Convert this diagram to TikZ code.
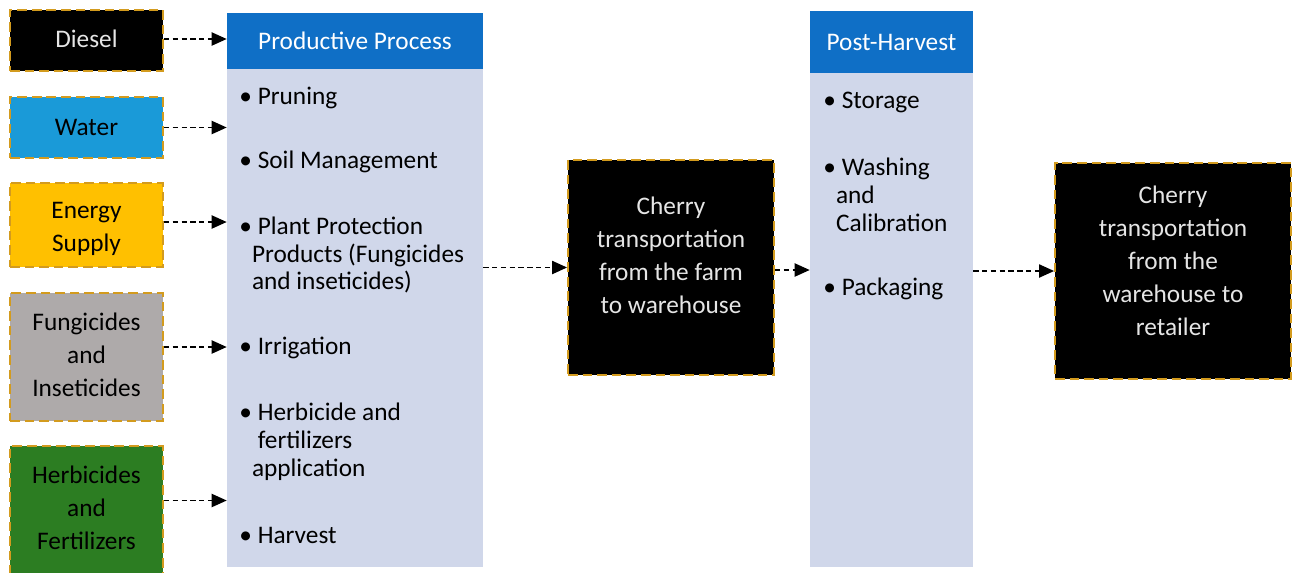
\documentclass[tikz,border=0pt]{standalone}
\usepackage{fontspec}
\setmainfont{Carlito}
\usetikzlibrary{arrows.meta,positioning}
\definecolor{dashorange}{HTML}{D39B1E}
\definecolor{headblue}{HTML}{0F6FC6}
\definecolor{colbody}{HTML}{D0D7EA}
\definecolor{waterblue}{HTML}{1A9AD8}
\definecolor{energyyellow}{HTML}{FFC000}
\definecolor{fungray}{HTML}{AEAAAA}
\definecolor{herbgreen}{HTML}{2C7D22}
\newcommand{\bul}{\makebox[10.5pt][l]{\textbullet}}
\newcommand{\ind}{\hspace*{7.2pt}}

\begin{document}
\begin{tikzpicture}[x=0.02cm,y=-0.02cm,
	txt/.style={font=\fontsize{14.4}{18.8}\selectfont},
	inbox/.style={draw=dashorange,line width=1.1pt,dash pattern=on 5.5pt off 2.8pt,
		inner sep=0pt,minimum width=3.06cm},
	boxtext/.style={txt,align=center,inner sep=0pt},
	column/.style={fill=colbody,inner sep=0pt},
	head/.style={txt,fill=headblue,text=white,inner sep=0pt},
	item/.style={font=\fontsize{14.4}{15.9}\selectfont,anchor=west,align=left,inner sep=0pt},
	flow/.style={line width=0.8pt,dash pattern=on 3pt off 2pt,-{Triangle[length=8.5pt,width=7.5pt]}}]
	\useasboundingbox (0,0) rectangle (1293,572);

	% inputs
	\node[inbox,fill=black,minimum height=1.22cm,
		label={[boxtext,text=white!90!black,yshift=0.03cm]center:Diesel}] (diesel) at (86.5,40.5) {};
	\node[inbox,fill=waterblue,minimum height=1.22cm,
		label={[boxtext]center:Water}] (water) at (86.5,127.5) {};
	\node[inbox,fill=energyyellow,minimum height=1.68cm,
		label={[boxtext,yshift=-0.07cm]center:Energy\\Supply}] (energy) at (86.5,225) {};
	\node[inbox,fill=fungray,minimum height=2.56cm,
		label={[boxtext,yshift=0.04cm]center:Fungicides\\and\\Inseticides}] (fung) at (86.5,357) {};
	\node[inbox,fill=herbgreen,minimum height=2.58cm,
		label={[boxtext,yshift=0.05cm]center:Herbicides\\and\\Fertilizers}] (herb) at (86.5,510.5) {};

	% productive process
	\node[column,minimum width=5.12cm,minimum height=11.08cm] (pp) at (355,290) {};
	\node[head,minimum width=5.12cm,minimum height=1.12cm] (pphead) at (355,41) {Productive Process};
	\node[item] (prune) at (239,98) {\bul Pruning};
	\node[item] (soil) at (239,162) {\bul Soil Management};
	\node[item] (protect) at (239,255) {\bul Plant Protection\\\ind Products (Fungicides\\\ind and inseticides)};
	\node[item] (irr) at (239,348) {\bul Irrigation};
	\node[item] (herbapp) at (239,442) {\bul Herbicide and\\\hspace*{10.5pt}fertilizers\\\ind application};
	\node[item] (harvest) at (239,535) {\bul Harvest};

	% transport
	\node[inbox,fill=black,minimum width=4.12cm,minimum height=4.3cm,
		label={[boxtext,text=white!90!black,yshift=0.24cm]center:Cherry\\transportation\\from the farm\\to warehouse}]
		(farm) at (671,267.5) {};

	% post-harvest
	\node[column,minimum width=3.26cm,minimum height=11.12cm] (ph) at (891.5,289) {};
	\node[head,minimum width=3.26cm,minimum height=1.24cm] (phhead) at (891.5,42) {Post-Harvest};
	\node[item] (storage) at (823,102) {\bul Storage};
	\node[item] (wash) at (823,195) {\bul Washing\\\ind and\\\ind Calibration};
	\node[item] (pack) at (823,289) {\bul Packaging};

	\node[inbox,fill=black,minimum width=4.72cm,minimum height=4.32cm,
		label={[boxtext,text=white!90!black,yshift=0.2cm]center:Cherry\\transportation\\from the\\warehouse to\\retailer}]
		(retail) at (1173,271) {};

	\draw[flow] ([yshift=0.03cm]diesel.east) -- ([yshift=0.03cm]diesel.east -| pp.west);
	\draw[flow] (water.east) -- (water.east -| pp.west);
	\draw[flow] ([yshift=0.06cm]energy.east) -- ([yshift=0.06cm]energy.east -| pp.west);
	\draw[flow] ([yshift=0.2cm]fung.east) -- ([yshift=0.2cm]fung.east -| pp.west);
	\draw[flow] ([yshift=0.2cm]herb.east) -- ([yshift=0.2cm]herb.east -| pp.west);
	\draw[flow] (pp.east |- farm.west) -- (farm.west);
	\draw[flow] ([yshift=-0.05cm]farm.east) -- ([yshift=-0.05cm]farm.east -| ph.west);
	\draw[flow] (ph.east |- retail.west) -- (retail.west);
\end{tikzpicture}
\end{document}
